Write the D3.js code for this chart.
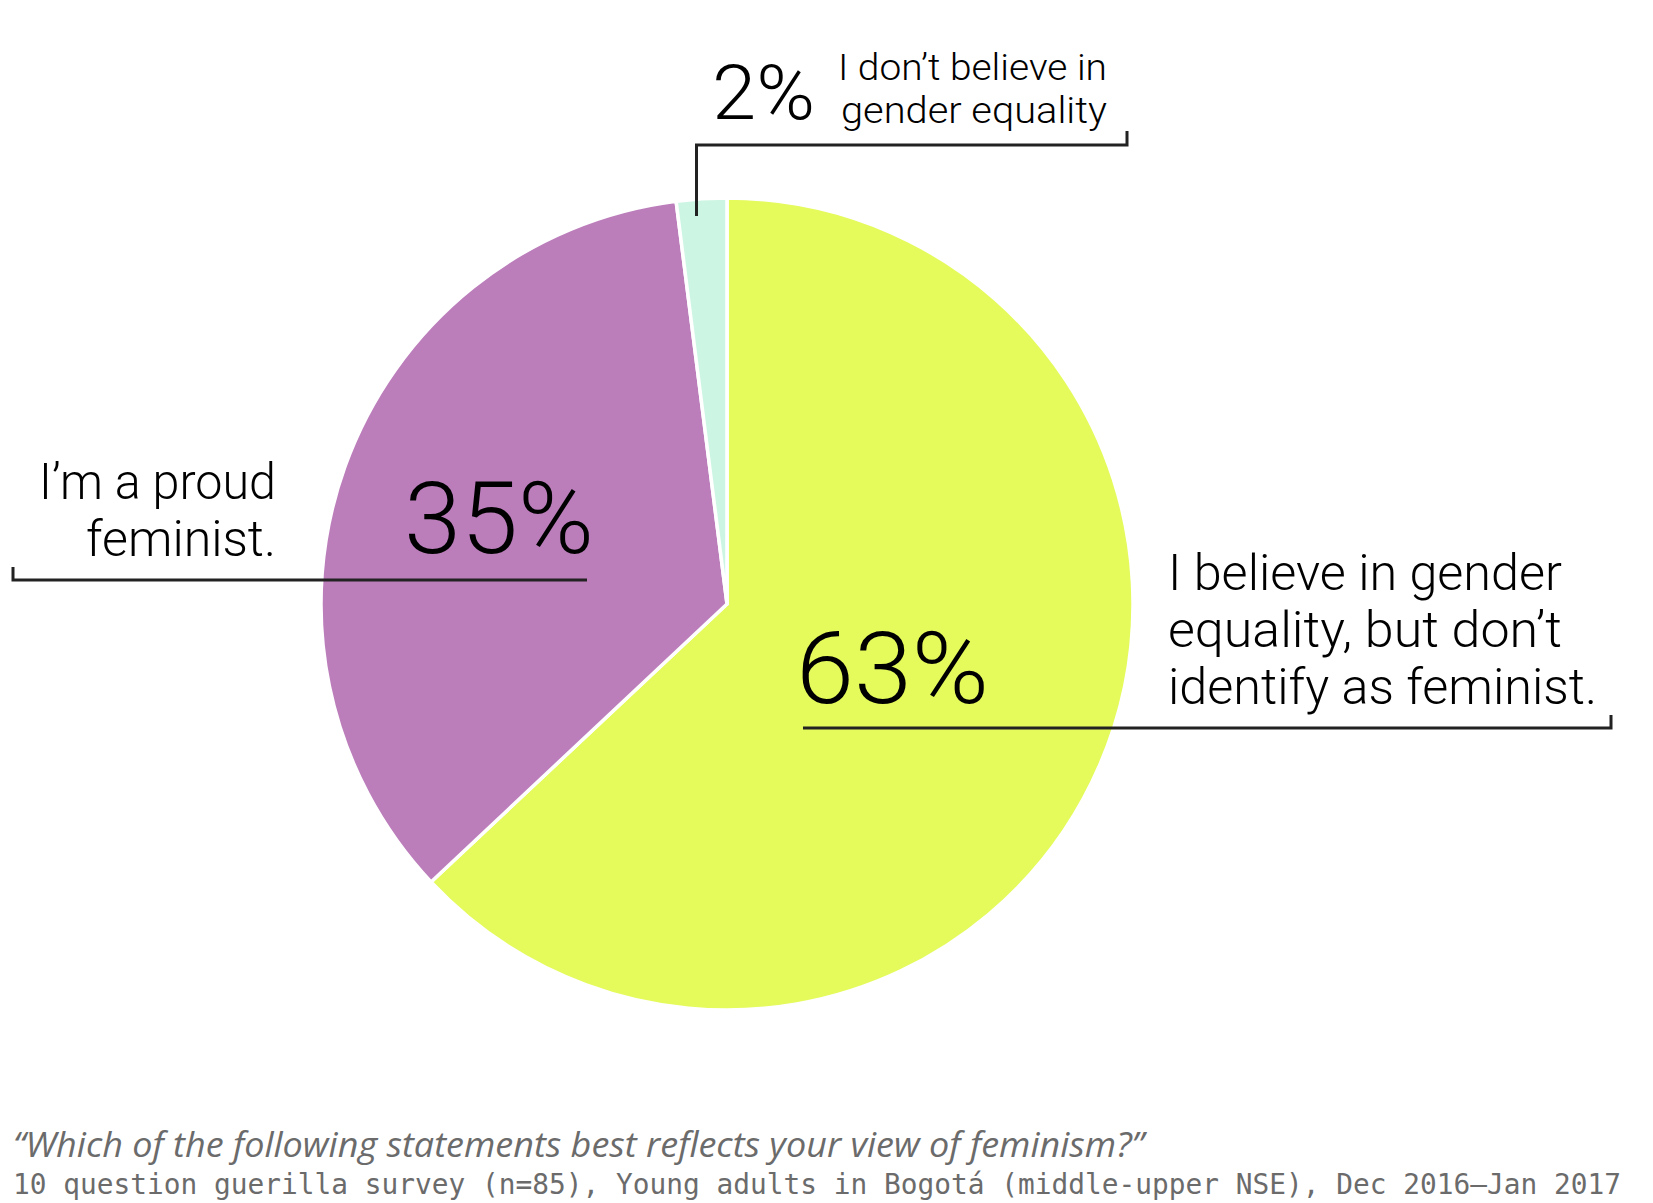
<!DOCTYPE html>
<html>
<head>
<meta charset="utf-8">
<script src="https://cdn.jsdelivr.net/npm/d3@7"></script>
<style>
  html, body { margin: 0; padding: 0; background: #fff; }
  svg { display: block; }
</style>
</head>
<body>
<svg id="chart" width="1653" height="1203"></svg>
<script>
// ---- data ----
const categories = [
  "I believe in gender equality, but don't identify as feminist.",
  "I'm a proud feminist.",
  "I don't believe in gender equality"
];
const values = [63, 35, 2];
const pctLabels = ["63%", "35%", "2%"];
const labelLines = [
  ["I believe in gender", "equality, but don’t", "identify as feminist."],
  ["I’m a proud", "feminist."],
  ["I don’t believe in", "gender equality"]
];
const colors = ["#E5FA5B", "#BB7EBB", "#CDF5E4"];
const question = "“Which of the following statements best reflects your view of feminism?”";
const source = "10 question guerilla survey (n=85), Young adults in Bogotá (middle-upper NSE), Dec 2016–Jan 2017";

// ---- layout ----
const svg = d3.select("#chart");
const cx = 727, cy = 604, R = 406;
const labelFont = "Roboto, Lato, 'Open Sans', sans-serif";

const pie = d3.pie().sort(null).value(d => d).startAngle(0).endAngle(2 * Math.PI);
const arcs = pie(values);
const arc = d3.arc().innerRadius(0).outerRadius(R);

const g = svg.append("g").attr("transform", `translate(${cx},${cy})`);
g.selectAll("path.slice")
  .data(arcs)
  .join("path")
  .attr("class", "slice")
  .attr("d", arc)
  .attr("fill", (d, i) => colors[i])
  .attr("stroke", "#fff")
  .attr("stroke-width", 3.5)
  .attr("stroke-linejoin", "round");

// helper to add text fitted to a target width
function addText(parent, txt, x, y, size, anchor, width, opts = {}) {
  const t = parent.append("text")
    .attr("x", x).attr("y", y)
    .attr("font-family", opts.family || labelFont)
    .attr("font-weight", opts.weight || 300)
    .attr("font-style", opts.style || "normal")
    .attr("font-size", size)
    .attr("fill", opts.fill || "#000")
    .attr("text-anchor", anchor)
    .text(txt);
  if (width) {
    t.attr("textLength", width).attr("lengthAdjust", "spacingAndGlyphs");
  }
  return t;
}

// leader lines (anchored to slice geometry)
const leaderColor = "#222";
const lw = 3;
const mintMid = (arcs[2].startAngle + arcs[2].endAngle) / 2;
const mintX = cx + Math.sin(mintMid) * R - 5;
const mintTopY = cy - R + 18;
svg.append("path")
  .attr("d", `M${mintX},${mintTopY} V145 H1127 V131`)
  .attr("fill", "none").attr("stroke", leaderColor).attr("stroke-width", lw);

svg.append("path")
  .attr("d", `M13,567 V580 H587`)
  .attr("fill", "none").attr("stroke", leaderColor).attr("stroke-width", lw);

svg.append("path")
  .attr("d", `M803,728 H1611 V715`)
  .attr("fill", "none").attr("stroke", leaderColor).attr("stroke-width", lw);

const ann = svg.append("g");

// percentages
addText(ann, pctLabels[1], 404, 553, 100, "start", 190);
addText(ann, pctLabels[0], 796, 703, 100, "start", 193);
addText(ann, pctLabels[2], 712, 119, 76, "start", 103);

// category labels
addText(ann, labelLines[0][0], 1168, 590, 50, "start", 394);
addText(ann, labelLines[0][1], 1168, 647, 50, "start", 394);
addText(ann, labelLines[0][2], 1168, 704, 50, "start", 429);

addText(ann, labelLines[1][0], 276, 499, 50, "end", 237);
addText(ann, labelLines[1][1], 276, 556, 50, "end", 190);

addText(ann, labelLines[2][0], 838, 80, 36, "start", 269);
addText(ann, labelLines[2][1], 841, 123, 36, "start", 266);

// footer
addText(svg, question, 13, 1157, 35, "start", 1131,
  { family: "'Open Sans', sans-serif", weight: 400, style: "italic", fill: "#6b6b6b" });
addText(svg, source, 13, 1194, 28, "start", 1608,
  { family: "'DejaVu Sans Mono', 'Liberation Mono', monospace", weight: 400, fill: "#6b6b6b" });
</script>
</body>
</html>
